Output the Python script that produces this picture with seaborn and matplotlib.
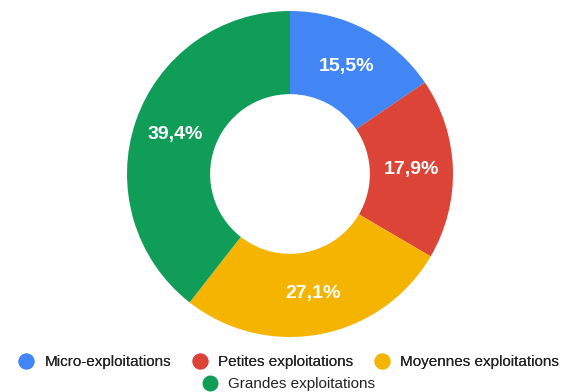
import matplotlib
matplotlib.use("Agg")
import numpy as np
import matplotlib.pyplot as plt
from matplotlib.lines import Line2D
import seaborn as sns

# Data
categories = ["Micro-exploitations", "Petites exploitations",
              "Moyennes exploitations", "Grandes exploitations"]
shares = [15.5, 17.9, 27.1, 39.4]
colors = ["#4285F4", "#DB4437", "#F4B400", "#0F9D58"]

sns.set_theme(style="white")
plt.rcParams['font.family'] = ['Liberation Sans', 'DejaVu Sans']

W, H = 571, 392
fig = plt.figure(figsize=(W / 100, H / 100), dpi=100)

# place the donut: centre (290, 174) px, radius 163 px
cx, cy, r = 290, 174, 163
ax = fig.add_axes([(cx - r) / W, (H - cy - r) / H, 2 * r / W, 2 * r / H])

labels_txt = [f"{v:.1f}%".replace(".", ",") for v in shares]
wedges, _ = ax.pie(shares, colors=colors, startangle=90, counterclock=False,
                   radius=1, wedgeprops=dict(width=0.51, edgecolor="none"))

# percentage labels in the middle of the ring
for w, t in zip(wedges, labels_txt):
    ang = np.deg2rad((w.theta1 + w.theta2) / 2)
    ax.text(0.745 * np.cos(ang), 0.745 * np.sin(ang), t, color="white",
            fontsize=14, fontweight="bold", ha="center", va="center")
ax.set_xlim(-1, 1)
ax.set_ylim(-1, 1)
ax.axis("off")

def handle(c):
    return Line2D([], [], marker="o", linestyle="none", markersize=10.5,
                  markerfacecolor=c, markeredgecolor=c)

leg_kw = dict(frameon=False, fontsize=11, handletextpad=0.68,
              columnspacing=1.4, handlelength=1.0, borderpad=0, loc="center",
              labelcolor="#222222")
leg1 = fig.legend([handle(c) for c in colors[:3]], categories[:3], ncol=3,
                  bbox_to_anchor=(289 / W, 1 - 362 / H), **leg_kw)
fig.add_artist(leg1)
fig.legend([handle(colors[3])], categories[3:], ncol=1,
           bbox_to_anchor=(289 / W, 1 - 384 / H), **leg_kw)

fig.savefig("out.png", dpi=100, facecolor="white")
